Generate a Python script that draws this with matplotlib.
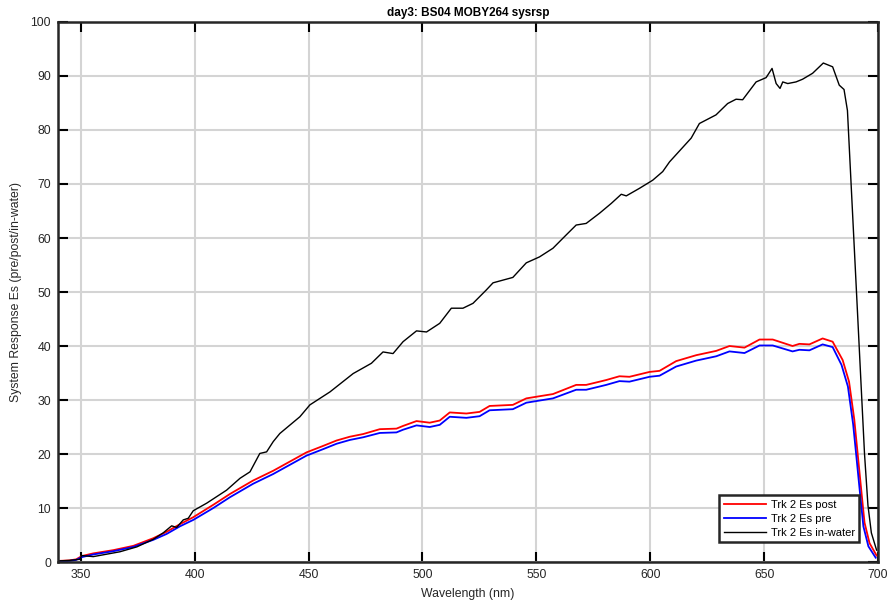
import matplotlib
matplotlib.use('Agg')
import matplotlib.pyplot as plt

plt.rcParams['font.family'] = ['Liberation Sans', 'DejaVu Sans']

# wavelength (nm) / system response
wl_post = [340, 345, 348, 350.4, 355.5, 364.3, 373.1, 381.8, 387.7, 393.5, 399.4,
           408.2, 415.5, 425.7, 434.5, 441.8, 449.1, 456.4, 462.3, 468.1, 474.0,
           481.3, 488.6, 491.5, 497.4, 503.2, 507.6, 512.0, 519.3, 525.1, 529.5,
           539.7, 545.6, 551.4, 557.3, 567.5, 571.9, 577.8, 580.7, 586.5, 590.9,
           599.7, 604.1, 611.4, 620.2, 629.0, 634.8, 641.4, 648.0, 653.8, 662.5,
           665.5, 669.9, 675.7, 680.1, 684.5, 687.3, 689.6, 691.1, 692.6, 694.1,
           696.3, 699.4]
es_post = [0.2, 0.3, 0.5, 1.1, 1.6, 2.2, 3.0, 4.4, 5.6, 7.0, 8.3,
           10.6, 12.6, 15.1, 16.9, 18.6, 20.3, 21.5, 22.5, 23.2, 23.7,
           24.6, 24.7, 25.2, 26.1, 25.8, 26.2, 27.7, 27.5, 27.8, 28.9,
           29.1, 30.3, 30.7, 31.1, 32.8, 32.8, 33.4, 33.7, 34.4, 34.3,
           35.2, 35.4, 37.2, 38.3, 39.1, 40.0, 39.7, 41.2, 41.2, 40.0,
           40.4, 40.3, 41.4, 40.8, 37.4, 33.4, 26.4, 20.0, 13.6, 7.3,
           3.5, 1.2]

wl_pre = [340, 345, 348, 350.4, 355.5, 364.3, 373.1, 381.8, 387.7, 393.5, 399.4,
          408.2, 415.5, 425.7, 434.5, 441.8, 449.1, 456.4, 462.3, 468.1, 474.0,
          481.3, 488.6, 491.5, 497.4, 503.2, 507.6, 512.0, 519.3, 525.1, 529.5,
          539.7, 545.6, 551.4, 557.3, 567.5, 571.9, 577.8, 580.7, 586.5, 590.9,
          599.7, 604.1, 611.4, 620.2, 629.0, 634.8, 641.4, 648.0, 653.8, 662.5,
          665.5, 669.9, 675.7, 680.1, 684.0, 686.8, 689.1, 690.6, 692.1, 693.6,
          695.8, 699.0]
es_pre = [0.1, 0.2, 0.4, 0.9, 1.4, 2.0, 2.8, 4.1, 5.2, 6.6, 7.8,
          10.0, 12.0, 14.5, 16.3, 18.0, 19.7, 20.9, 21.9, 22.6, 23.1,
          23.9, 24.0, 24.5, 25.3, 25.0, 25.4, 26.9, 26.7, 27.0, 28.1,
          28.3, 29.5, 29.9, 30.3, 31.9, 31.9, 32.5, 32.8, 33.5, 33.4,
          34.3, 34.5, 36.2, 37.3, 38.1, 39.0, 38.7, 40.1, 40.1, 39.0,
          39.3, 39.2, 40.3, 39.8, 36.5, 32.5, 25.5, 19.2, 12.8, 6.6,
          2.9, 0.8]

wl_water = [340, 345, 349.6, 350.4, 355.5, 367.2, 374.6, 381.8, 386.2, 389.9,
            392.1, 395.0, 397.2, 399.4, 405.3, 414.0, 419.9, 424.3, 428.6, 431.6,
            434.5, 437.4, 446.2, 450.6, 459.4, 469.6, 477.6, 482.7, 487.1, 491.5,
            497.4, 501.8, 507.6, 512.7, 517.8, 522.2, 528.1, 531.0, 539.7, 545.6,
            551.4, 557.3, 563.2, 567.5, 571.9, 577.8, 582.9, 587.3, 589.5, 595.3,
            601.1, 605.5, 608.5, 618.0, 621.6, 628.9, 634.0, 637.7, 640.6, 646.5,
            650.9, 653.5, 655.3, 657.0, 658.2, 660.4, 664.0, 666.9, 671.3, 676.0,
            680.1, 683.0, 685.1, 686.6, 688.1, 689.6, 691.1, 692.6, 694.1, 695.6,
            697.1, 699.4]
es_water = [0.2, 0.3, 0.5, 1.2, 1.0, 1.9, 2.8, 4.2, 5.4, 6.7,
            6.4, 7.8, 8.1, 9.5, 10.9, 13.3, 15.5, 16.7, 20.1, 20.4,
            22.3, 23.8, 26.9, 29.1, 31.5, 34.9, 36.8, 38.9, 38.6, 40.8,
            42.8, 42.6, 44.2, 47.0, 47.0, 47.9, 50.4, 51.7, 52.7, 55.4,
            56.5, 58.1, 60.6, 62.4, 62.7, 64.6, 66.4, 68.1, 67.8, 69.2,
            70.7, 72.3, 74.1, 78.5, 81.2, 82.8, 84.9, 85.7, 85.6, 88.9,
            89.7, 91.4, 88.6, 87.7, 88.9, 88.6, 88.9, 89.4, 90.5, 92.4,
            91.7, 88.3, 87.5, 83.6, 70.9, 58.2, 45.5, 32.7, 20.0, 10.5,
            5.4, 2.2]

labels = ['Trk 2 Es post', 'Trk 2 Es pre', 'Trk 2 Es in-water']
x_ticks = [350, 400, 450, 500, 550, 600, 650, 700]
y_ticks = list(range(0, 101, 10))

fig = plt.figure(figsize=(8.88, 6.04), dpi=100)
ax = fig.add_axes([0.0653, 0.0695, 0.9234, 0.8941])

ax.plot(wl_post, es_post, color='#ff0000', lw=1.3, label=labels[0])
ax.plot(wl_pre, es_pre, color='#0000ff', lw=1.3, label=labels[1])
ax.plot(wl_water, es_water, color='black', lw=1.0, label=labels[2])

ax.set_xlim(340, 700)
ax.set_ylim(0, 100)
ax.set_xticks(x_ticks)
ax.set_yticks(y_ticks)
ax.grid(True, color='#d4d4d4', lw=1.5)
ax.set_axisbelow(True)
ax.tick_params(direction='in', length=7, width=1.5, top=True, right=True,
               labelsize=8.8, colors='black', labelcolor='#262626', pad=5)
for sp in ax.spines.values():
    sp.set_linewidth(1.8)
    sp.set_color('#262626')

ax.set_xlabel('Wavelength (nm)', fontsize=8.8, color='#262626', labelpad=5)
ax.set_ylabel('System Response Es (pre/post/in-water)', fontsize=8.8,
              color='#262626', labelpad=6)
ax.set_title('day3: BS04 MOBY264 sysrsp', fontsize=8.5, fontweight='bold', pad=4)

leg = ax.legend(loc='lower right', fontsize=8, fancybox=False, framealpha=1,
                edgecolor='#262626', handlelength=3.8, handletextpad=0.4,
                borderpad=0.4, labelspacing=0.35, borderaxespad=0,
                bbox_to_anchor=(0.977, 0.037))
leg.get_frame().set_linewidth(1.8)

fig.savefig('out.png', dpi=100)
